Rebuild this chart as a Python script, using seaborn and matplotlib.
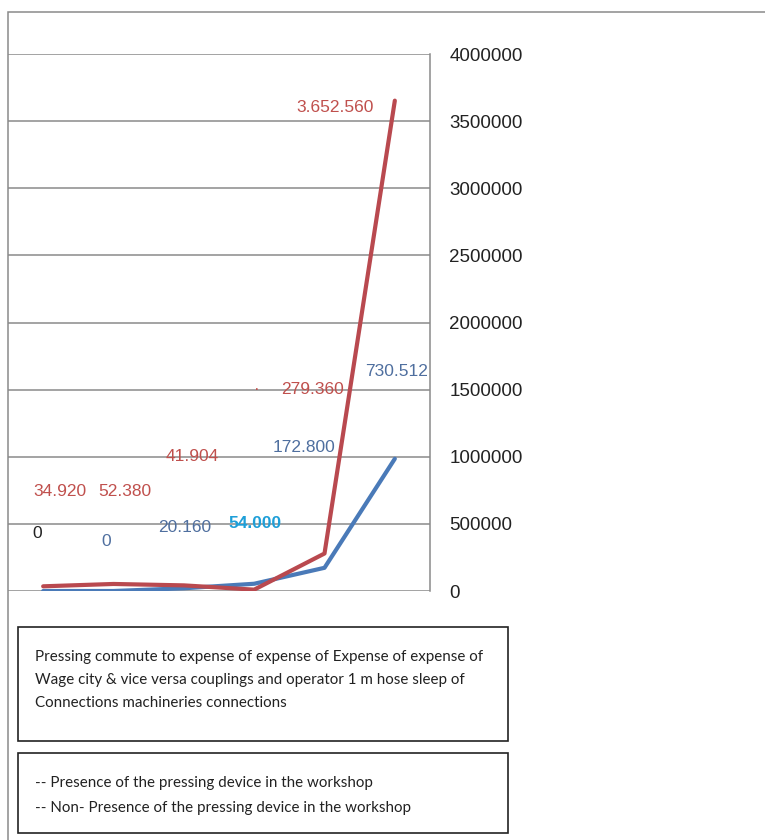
import numpy as np
import pandas as pd
import matplotlib
matplotlib.use("Agg")
import matplotlib.pyplot as plt
import seaborn as sns
from matplotlib.patches import Rectangle

sns.set_theme(style="white")
plt.rcParams['font.family'] = ['Liberation Sans', 'DejaVu Sans']

# data
steps = [0, 1, 2, 3, 4, 5]
with_press = [34920, 52380, 41904, 10000, 279360, 3652560]
without_press = [0, 0, 20160, 54000, 172800, 985000]
yticks = [0, 500000, 1000000, 1500000, 2000000, 2500000, 3000000, 3500000, 4000000]

red_labels = ["34.920", "52.380", "41.904", "279.360", "3.652.560"]
blue_labels = ["0", "20.160", "172.800", "730.512"]

RED = "#b9494f"
BLUE = "#4a7ab8"

df = pd.DataFrame({
    "step": steps * 2,
    "value": with_press + without_press,
    "series": ["Presence"] * 6 + ["Non-Presence"] * 6,
})

fig = plt.figure(figsize=(7.65, 8.4), dpi=100)
W, H = 765, 840

def px(x0, y0, x1, y1):
    return [x0 / W, 1 - y1 / H, (x1 - x0) / W, (y1 - y0) / H]

ax = fig.add_axes(px(8, 54, 430, 591))
sns.lineplot(data=df, x="step", y="value", hue="series",
             palette={"Presence": RED, "Non-Presence": BLUE},
             hue_order=["Non-Presence", "Presence"],
             linewidth=3, legend=False, ax=ax)
ax.set_xlim(-0.5, 5.5)
ax.set_ylim(0, 4000000)
ax.set_yticks(yticks)
ax.set_yticklabels([str(t) for t in yticks])
ax.set_xticks([])
ax.set_xlabel("")
ax.set_ylabel("")
ax.yaxis.tick_right()
ax.tick_params(axis="y", length=0, pad=14, labelsize=13.5, labelcolor="#222222")
ax.grid(axis="y", color="#8a8a8a", linewidth=1.1)
ax.set_axisbelow(True)
for s in ["left", "top", "bottom"]:
    ax.spines[s].set_visible(False)
ax.spines["right"].set_color("#8a8a8a")
ax.spines["right"].set_linewidth(1.1)
ax.set_facecolor("white")

# data labels (positions in pixel space of the figure)
def label(x, y, s, color, **kw):
    fig.text(x / W, 1 - y / H, s, color=color, ha="center", va="center",
             fontsize=12.5, **kw)

label(60, 492, red_labels[0], "#c0504d")
label(125, 492, red_labels[1], "#c0504d")
label(192, 457, red_labels[2], "#c0504d")
label(312, 390, red_labels[3], "#c0504d")
label(335, 107, red_labels[4], "#c0504d")
label(257, 390, "·", "#c0504d")
label(37, 533, "0", "#222222")
label(106, 541, blue_labels[0], "#4f6f9f")
label(185, 527, blue_labels[1], "#4f6f9f")
label(304, 447, blue_labels[2], "#4f6f9f")
label(397, 372, blue_labels[3], "#4f6f9f")
label(255, 524, "54.000", "#1e9fd8", fontweight="bold")

# outer frame
fig.patches.append(Rectangle((8 / W, -0.1), 1.2, 1 - 12 / H + 0.1,
                             transform=fig.transFigure, fill=False,
                             edgecolor="#8a8a8a", linewidth=1.1))

# text boxes below
for (x0, y0, x1, y1) in [(18, 627, 508, 741), (18, 753, 508, 833)]:
    fig.patches.append(Rectangle((x0 / W, 1 - y1 / H), (x1 - x0) / W, (y1 - y0) / H,
                                 transform=fig.transFigure, fill=False,
                                 edgecolor="#222222", linewidth=1.2))

box_font = ['Lato', 'DejaVu Sans']
lines1 = ["Pressing commute to expense of expense of Expense of expense of",
          "Wage city & vice versa couplings and operator 1 m hose sleep of",
          "Connections machineries connections"]
for i, t in enumerate(lines1):
    fig.text(35 / W, 1 - (657 + i * 23) / H, t, fontsize=10.9, color="#222222",
             va="center", ha="left", family=box_font)
fig.text(35 / W, 1 - 783 / H, "-- Presence of the pressing device in the workshop",
         fontsize=10.9, color="#222222", va="center", ha="left", family=box_font)
fig.text(35 / W, 1 - 808 / H, "-- Non- Presence of the pressing device in the workshop",
         fontsize=10.9, color="#222222", va="center", ha="left", family=box_font)

fig.savefig("out.png", dpi=100, facecolor="white")
